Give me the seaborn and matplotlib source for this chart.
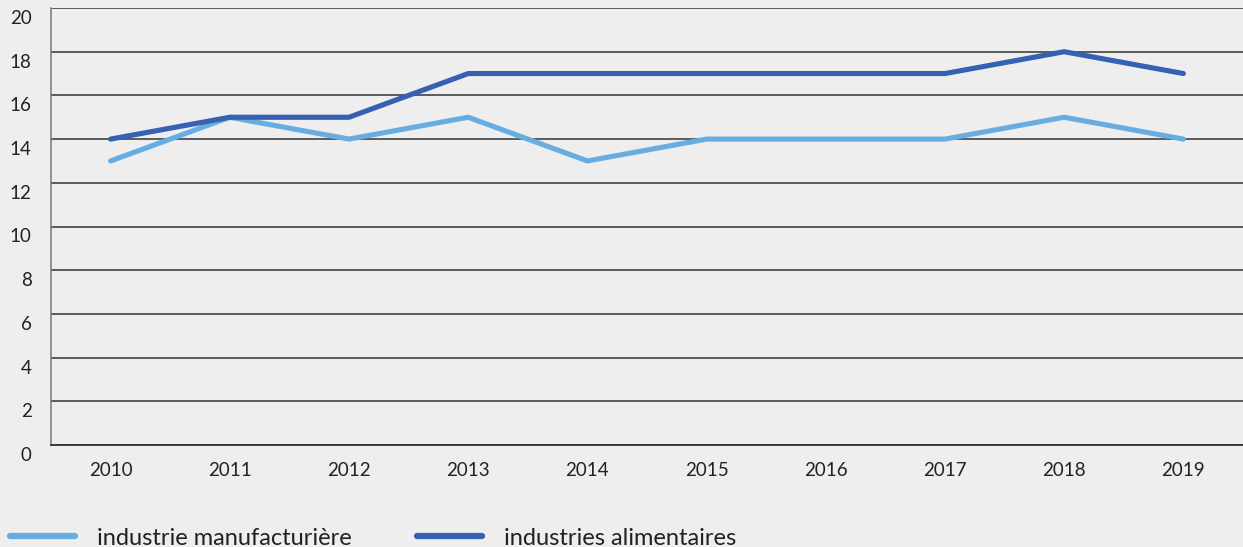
import matplotlib
matplotlib.use("Agg")
import matplotlib.pyplot as plt
import matplotlib.transforms as mtransforms
import seaborn as sns
import pandas as pd

years = ["2010", "2011", "2012", "2013", "2014", "2015", "2016", "2017", "2018", "2019"]
manufacturiere = [13, 15, 14, 15, 13, 14, 14, 14, 15, 14]
alimentaires = [14, 15, 15, 17, 17, 17, 17, 17, 18, 17]
series_names = ["industrie manufacturière", "industries alimentaires"]
y_ticks = [0, 2, 4, 6, 8, 10, 12, 14, 16, 18, 20]

bg = "#eeeeee"
palette = {series_names[0]: "#68ade2", series_names[1]: "#3660b1"}

sns.set_theme(style="white")
plt.rcParams["font.family"] = ["Lato", "DejaVu Sans"]

df = pd.DataFrame({
    "annee": list(range(len(years))) * 2,
    "valeur": manufacturiere + alimentaires,
    "serie": [series_names[0]] * len(years) + [series_names[1]] * len(years),
})

fig = plt.figure(figsize=(12.43, 5.47), dpi=100, facecolor=bg)
ax = fig.add_axes([51 / 1243, 1 - 445 / 547, 1 - 51 / 1243, (445 - 8) / 547])
ax.set_facecolor(bg)

sns.lineplot(data=df, x="annee", y="valeur", hue="serie", palette=palette,
             linewidth=3.7, ax=ax, legend=False, solid_capstyle="round",
             zorder=3)

ax.set_xlim(-0.5, len(years) - 0.5)
ax.set_ylim(0, 20)
ax.set_yticks(y_ticks)
ax.set_yticklabels([str(v) for v in y_ticks], fontsize=13.5, color="#222222")
ax.yaxis.grid(True, color="#333333", linewidth=1.1)
ax.set_axisbelow(True)
ax.tick_params(axis="y", length=0, pad=14)
for lab in ax.get_yticklabels():
    lab.set_horizontalalignment("right")
    lab.set_transform(lab.get_transform() + mtransforms.ScaledTranslation(0, -9 / 100, fig.dpi_scale_trans))

# category labels centred, tick marks between categories
ax.set_xticks(range(len(years)))
ax.set_xticklabels(years, fontsize=13.5, color="#222222")
ax.set_xticks([i + 0.5 for i in range(len(years) - 1)], minor=True)
ax.tick_params(axis="x", which="major", length=0, pad=12)
ax.tick_params(axis="x", which="minor", direction="in", length=10, width=1, color="#333333")
ax.set_xlabel("")
ax.set_ylabel("")

for side in ["top", "right"]:
    ax.spines[side].set_visible(False)
ax.spines["left"].set_color("#777777")
ax.spines["left"].set_linewidth(1.1)
ax.spines["bottom"].set_color("#333333")
ax.spines["bottom"].set_linewidth(1.3)

handles = [plt.Line2D([0], [0], color=palette[n], linewidth=4.5, solid_capstyle="round")
           for n in series_names]
leg = fig.legend(handles, series_names, loc="lower left", bbox_to_anchor=(-0.009, -0.042),
                 ncol=2, frameon=False, fontsize=17, handlelength=2.75,
                 handletextpad=0.95, columnspacing=2.75)
for t in leg.get_texts():
    t.set_color("#222222")

fig.savefig("out.png", dpi=100, facecolor=bg)
